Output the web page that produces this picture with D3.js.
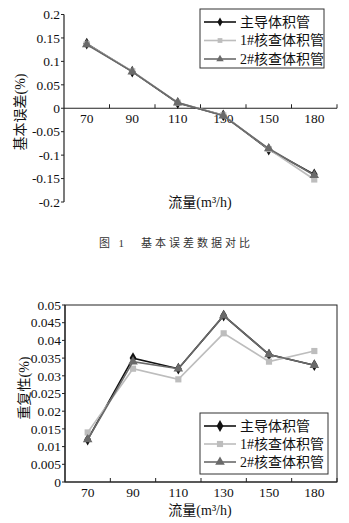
<!DOCTYPE html>
<html><head><meta charset="utf-8">
<script src="https://cdn.jsdelivr.net/npm/d3@7"></script>
<style>
body{margin:0;background:#fff;}
svg{display:block;}
</style></head>
<body>
<script>
const categories = ["70","90","110","130","150","180"];
const seriesNames = ["主导体积管","1#核查体积管","2#核查体积管"];
// Chart 1: basic error (%)
const errMain = [0.138, 0.078, 0.011, -0.015, -0.088, -0.141];
const err1 = [0.137, 0.079, 0.012, -0.015, -0.087, -0.152];
const err2 = [0.136, 0.078, 0.012, -0.016, -0.086, -0.143];
const errTicks = [0.2,0.15,0.1,0.05,0,-0.05,-0.1,-0.15,-0.2];
// Chart 2: repeatability (%)
const repMain = [0.012, 0.035, 0.032, 0.047, 0.036, 0.033];
const rep1 = [0.014, 0.032, 0.029, 0.042, 0.034, 0.037];
const rep2 = [0.012, 0.034, 0.032, 0.047, 0.036, 0.033];
const repTicks = [0,0.005,0.01,0.015,0.02,0.025,0.03,0.035,0.04,0.045,0.05];
const caption = "图 1　基本误差数据对比";

const FONT = "'Liberation Serif','DejaVu Serif','Noto Sans CJK SC',serif";

const styles = [
  {color:"#111", marker:"diamond", size:40},
  {color:"#bdbdbd", marker:"square", size:38},
  {color:"#6a6a6a", marker:"triangle", size:40}
];
const symMap = {diamond:d3.symbolDiamond, square:d3.symbolSquare, triangle:d3.symbolTriangle};

const svg = d3.select("body").append("svg").attr("width",349).attr("height",523)
  .style("font-family",FONT);

function fmt(v){ if(v===0) return "0"; return String(+v.toFixed(3)); }

function drawChart(cfg){
  const g = svg.append("g").attr("font-family",FONT).attr("fill","#111");
  const x = d3.scaleBand().domain(categories).range([cfg.left, cfg.right]).padding(0);
  const y = d3.scaleLinear().domain(cfg.domain).range([cfg.bottom, cfg.top]);
  const cx = c => x(c) + x.bandwidth()/2;

  if(cfg.frame){
    g.append("rect").attr("x",cfg.left).attr("y",cfg.top).attr("width",cfg.right-cfg.left)
     .attr("height",cfg.bottom-cfg.top).attr("fill","none").attr("stroke","#222").attr("stroke-width",1);
  }
  g.append("line").attr("x1",cfg.left).attr("x2",cfg.left).attr("y1",cfg.top).attr("y2",cfg.bottom)
   .attr("stroke","#222").attr("stroke-width",1.2);
  cfg.ticks.forEach(t=>{
    g.append("line").attr("x1",cfg.left-3).attr("x2",cfg.left).attr("y1",y(t)).attr("y2",y(t)).attr("stroke","#222");
    g.append("text").attr("x",cfg.left-4).attr("y",y(t)).attr("dy","0.35em").attr("text-anchor","end")
     .attr("font-size",13.5).text(fmt(t));
  });
  const y0 = y(0);
  g.append("line").attr("x1",cfg.left).attr("x2",cfg.right).attr("y1",y0).attr("y2",y0)
   .attr("stroke","#222").attr("stroke-width",1.2);
  categories.forEach(c=>{
    const xb = x(c)+x.bandwidth();
    g.append("line").attr("x1",xb).attr("x2",xb).attr("y1",y0-4).attr("y2",y0).attr("stroke","#222");
    g.append("text").attr("x",cx(c)).attr("y",cfg.xLabelY).attr("dy","0.35em").attr("text-anchor","middle")
     .attr("font-size",13.5).text(c);
  });
  cfg.series.forEach((vals,i)=>{
    const st = styles[i];
    const line = d3.line().x((d,j)=>cx(categories[j])).y(d=>y(d));
    g.append("path").datum(vals).attr("d",line).attr("fill","none").attr("stroke",st.color).attr("stroke-width",1.6);
    g.selectAll(null).data(vals).enter().append("path")
     .attr("transform",(d,j)=>`translate(${cx(categories[j])},${y(d)})`)
     .attr("d",d3.symbol().type(symMap[st.marker]).size(st.size)).attr("fill",st.color);
  });
  g.append("text").attr("transform",`translate(${cfg.yTitleX},${cfg.yTitleY}) rotate(-90)`)
   .attr("text-anchor","middle").attr("dy","0.35em").attr("font-size",14).text(cfg.yTitle);
  g.append("text").attr("x",200).attr("y",cfg.xTitleY).attr("dy","0.35em")
   .attr("text-anchor","middle").attr("font-size",14).text("流量(m³/h)");
  const L = cfg.legend;
  g.append("rect").attr("x",L.x).attr("y",L.y).attr("width",L.w).attr("height",L.h)
   .attr("fill","#fff").attr("stroke","#333").attr("stroke-width",1);
  seriesNames.forEach((n,i)=>{
    const ry = L.y + L.row0 + i*L.dy;
    const st = styles[i];
    g.append("line").attr("x1",L.x+4).attr("x2",L.x+36).attr("y1",ry).attr("y2",ry).attr("stroke",st.color).attr("stroke-width",1.6);
    g.append("path").attr("transform",`translate(${L.x+20},${ry})`)
     .attr("d",d3.symbol().type(symMap[st.marker]).size(st.size*(L.ms||1))).attr("fill",st.color);
    g.append("text").attr("x",L.x+40).attr("y",ry).attr("dy","0.35em")
     .attr("font-size",14).text(n);
  });
}

drawChart({left:64, right:337, top:14.5, bottom:202, domain:[-0.2,0.2], ticks:errTicks,
  frame:false, xLabelY:118, series:[errMain, err1, err2],
  yTitle:"基本误差(%)", yTitleX:20, yTitleY:112, xTitleY:202,
  legend:{x:200, y:9, w:124, h:59, row0:13, dy:18.5, ms:0.6}});

svg.append("text").attr("x",176).attr("y",243).attr("dy","0.35em")
  .attr("text-anchor","middle").attr("font-size",11).attr("letter-spacing","3px").attr("fill","#333").text(caption);

drawChart({left:65, right:337, top:305, bottom:482, domain:[0,0.05], ticks:repTicks,
  frame:true, xLabelY:492, series:[repMain, rep1, rep2],
  yTitle:"重复性(%)", yTitleX:24, yTitleY:388, xTitleY:510,
  legend:{x:200, y:413, w:128, h:61, row0:13, dy:18, ms:1}});
</script>
</body></html>
